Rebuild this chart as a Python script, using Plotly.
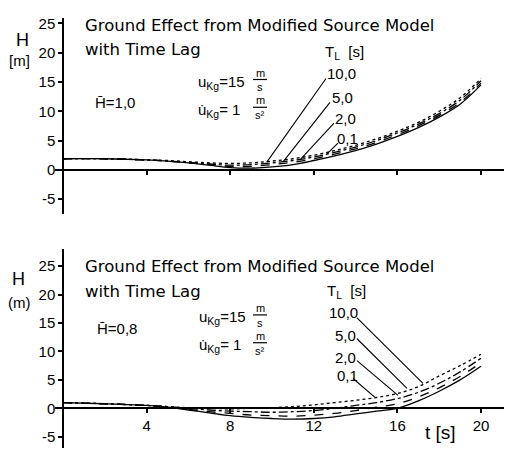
import plotly.graph_objects as go

# ---------------- data ----------------
t = [0, 2, 4, 5, 6, 7, 8, 9, 10, 11, 12, 13, 14, 15, 16, 17, 18, 19, 20]

# upper panel  (H-bar = 1,0)
top_tl_01 = [1.9, 1.9, 1.7, 1.5, 1.2, 0.8, 0.4, 0.3, 0.5, 0.9, 1.6, 2.4, 3.3, 4.4, 5.7, 7.2, 9.0, 11.2, 14.5]
top_tl_2 = [1.9, 1.9, 1.7, 1.5, 1.2, 0.9, 0.6, 0.6, 0.9, 1.3, 1.9, 2.7, 3.6, 4.7, 6.0, 7.5, 9.3, 11.5, 14.8]
top_tl_5 = [1.9, 1.9, 1.7, 1.5, 1.3, 1.0, 0.8, 0.9, 1.2, 1.6, 2.2, 3.0, 3.9, 5.0, 6.3, 7.8, 9.6, 11.9, 15.2]
top_tl_10 = [1.9, 1.9, 1.7, 1.6, 1.4, 1.2, 1.1, 1.2, 1.5, 1.9, 2.5, 3.3, 4.2, 5.3, 6.6, 8.1, 10.0, 12.3, 15.6]

# lower panel  (H-bar = 0,8)
bot_tl_01 = [1.0, 0.8, 0.5, 0.2, -0.3, -0.8, -1.3, -1.6, -1.8, -1.9, -1.8, -1.5, -1.0, -0.5, 0.0, 1.3, 3.0, 5.0, 7.4]
bot_tl_2 = [1.0, 0.8, 0.5, 0.2, -0.2, -0.6, -0.9, -1.2, -1.3, -1.4, -1.2, -0.9, -0.4, 0.2, 0.8, 2.0, 3.6, 5.6, 8.0]
bot_tl_5 = [1.0, 0.8, 0.5, 0.3, 0.0, -0.3, -0.5, -0.6, -0.7, -0.6, -0.4, 0.0, 0.5, 1.0, 1.7, 2.8, 4.4, 6.4, 8.8]
bot_tl_10 = [1.0, 0.8, 0.5, 0.3, 0.1, 0.0, -0.1, 0.0, 0.1, 0.3, 0.6, 1.0, 1.4, 1.9, 2.6, 3.8, 5.7, 7.5, 9.5]

lag_labels = ["0,1", "2,0", "5,0", "10,0"]
x_tickvals = [4, 8, 12, 16, 20]
x_ticktext = ["4", "8", "12", "16", "20"]
y_tickvals = [-5, 0, 5, 10, 15, 20, 25]
y_ticktext = ["-5", "0", "5", "10", "15", "20", "25"]

# ---------------- layout helpers ----------------
W, H = 518, 450
FONT = "Liberation Sans"
TFONT = "DejaVu Sans"
INK = "black"


def px(x):
    return x / W


def py(y):
    return 1 - y / H


# pixel geometry of the two panels
X0PIX, XSCALE = 63.0, 20.9          # pixel of t=0, pixels per second
XR = [-0.4, 21.1]
xdom = [px(X0PIX + XSCALE * XR[0]), px(X0PIX + XSCALE * XR[1])]

TOP_ZERO, TOP_SC = 168.0, 5.9
TOP_YR = [-7.5, 26.0]
top_dom = [py(TOP_ZERO - TOP_SC * TOP_YR[0]), py(TOP_ZERO - TOP_SC * TOP_YR[1])]

BOT_ZERO, BOT_SC = 408.0, 5.72
BOT_YR = [-7.0, 28.0]
bot_dom = [py(BOT_ZERO - BOT_SC * BOT_YR[0]), py(BOT_ZERO - BOT_SC * BOT_YR[1])]


def paper_of(val, rng, dom):
    return dom[0] + (val - rng[0]) / (rng[1] - rng[0]) * (dom[1] - dom[0])


styles = ["solid", "dash", "dashdot", "dot"]

fig = go.Figure()
top_series = [top_tl_01, top_tl_2, top_tl_5, top_tl_10]
bot_series = [bot_tl_01, bot_tl_2, bot_tl_5, bot_tl_10]
for lab, ys, st in zip(lag_labels, top_series, styles):
    fig.add_trace(go.Scatter(x=t, y=ys, mode="lines", name=lab, line=dict(color=INK, width=1.3, dash=st, shape="spline"),
                             xaxis="x", yaxis="y", showlegend=False))
for lab, ys, st in zip(lag_labels, bot_series, styles):
    fig.add_trace(go.Scatter(x=t, y=ys, mode="lines", name=lab, line=dict(color=INK, width=1.3, dash=st, shape="spline"),
                             xaxis="x2", yaxis="y2", showlegend=False))

axfont = dict(family=FONT, size=15, color=INK)
common_x = dict(range=XR, domain=xdom, showgrid=False, zeroline=False, showline=True, linecolor=INK, linewidth=1.5,
                ticks="outside", ticklen=4, tickwidth=1.5, tickcolor=INK, tickvals=x_tickvals, ticktext=x_ticktext,
                tickfont=axfont, anchor="free")
common_y = dict(showgrid=False, zeroline=False, showline=True, linecolor=INK, linewidth=1.5, ticks="outside", ticklen=4,
                tickwidth=1.5, tickcolor=INK, tickvals=y_tickvals, ticktext=y_ticktext, tickfont=axfont, anchor="free",
                position=paper_of(0, XR, xdom))

fig.update_layout(
    width=W, height=H, margin=dict(l=0, r=0, t=0, b=0),
    paper_bgcolor="white", plot_bgcolor="white",
    xaxis=dict(common_x, position=paper_of(0, TOP_YR, top_dom), showticklabels=False),
    yaxis=dict(common_y, range=TOP_YR, domain=top_dom),
    xaxis2=dict(common_x, position=paper_of(0, BOT_YR, bot_dom), showticklabels=True),
    yaxis2=dict(common_y, range=BOT_YR, domain=bot_dom),
)

anns = []


def txt(s, x, y, size=15, anchor="left", family=FONT):
    anns.append(dict(text=s, x=px(x), y=py(y), xref="paper", yref="paper", xanchor=anchor, yanchor="middle",
                     showarrow=False, font=dict(family=family, size=size, color=INK)))


shapes = []


def line_pix(x1, y1, x2, y2, w=1.2):
    shapes.append(dict(type="line", xref="paper", yref="paper", x0=px(x1), y0=py(y1), x1=px(x2), y1=py(y2),
                       line=dict(color=INK, width=w)))


def fraction(cx, ybar, den="s"):
    txt("m", cx, ybar - 7, 11, "center")
    line_pix(cx - 7, ybar, cx + 7, ybar, 1.2)
    txt(den, cx, ybar + 8, 11, "center")


# ---- upper panel texts ----
txt("Ground Effect from Modified Source Model", 83, 23, 16.5, family=TFONT)
txt("with Time Lag", 83, 47, 16.5, family=TFONT)
txt("H", 14, 37, 18)
txt("[m]", 7, 58, 15)
txt("H\u0304=1,0", 93, 100, 15)
txt("u<sub>Kg</sub>=15", 196, 80, 15)
txt("u\u0307<sub>Kg</sub>= 1", 196, 108, 15)
fraction(260, 77)
fraction(260, 105, "s²")
txt("T<sub>L</sub>  [s]", 323, 50, 15)
top_lab_pos = [(335, 136), (333, 116), (330, 95), (325, 71)]
top_lead = [((338, 141), (326, 153)), ((334, 121), (300, 158)), ((330, 100), (283, 160)), ((326, 76), (267, 160))]
for lab, (lx, ly) in zip(lag_labels, top_lab_pos):
    txt(lab, lx, ly, 15)
for (a, b) in top_lead:
    line_pix(a[0], a[1], b[0], b[1], 1.1)

# ---- lower panel texts ----
txt("Ground Effect from Modified Source Model", 83, 265, 16.5, family=TFONT)
txt("with Time Lag", 83, 290, 16.5, family=TFONT)
txt("H", 10, 278, 18)
txt("(m)", 6, 302, 15)
txt("H\u0304=0,8", 95, 328, 15)
txt("u<sub>Kg</sub>=15", 197, 317, 15)
txt("u\u0307<sub>Kg</sub>= 1", 197, 345, 15)
fraction(260, 314)
fraction(260, 342, "s²")
txt("T<sub>L</sub>  [s]", 325, 290, 15)
bot_lab_pos = [(335, 375), (333, 357), (333, 335), (327, 312)]
bot_lead = [((353, 378), (375, 397)), ((357, 360), (398, 395)), ((357, 338), (407, 388)), ((357, 317), (423, 383))]
for lab, (lx, ly) in zip(lag_labels, bot_lab_pos):
    txt(lab, lx, ly, 15)
for (a, b) in bot_lead:
    line_pix(a[0], a[1], b[0], b[1], 1.1)
txt("t [s]", 423, 432, 19)

fig.update_layout(annotations=anns, shapes=shapes)
fig.write_html("out.html")
